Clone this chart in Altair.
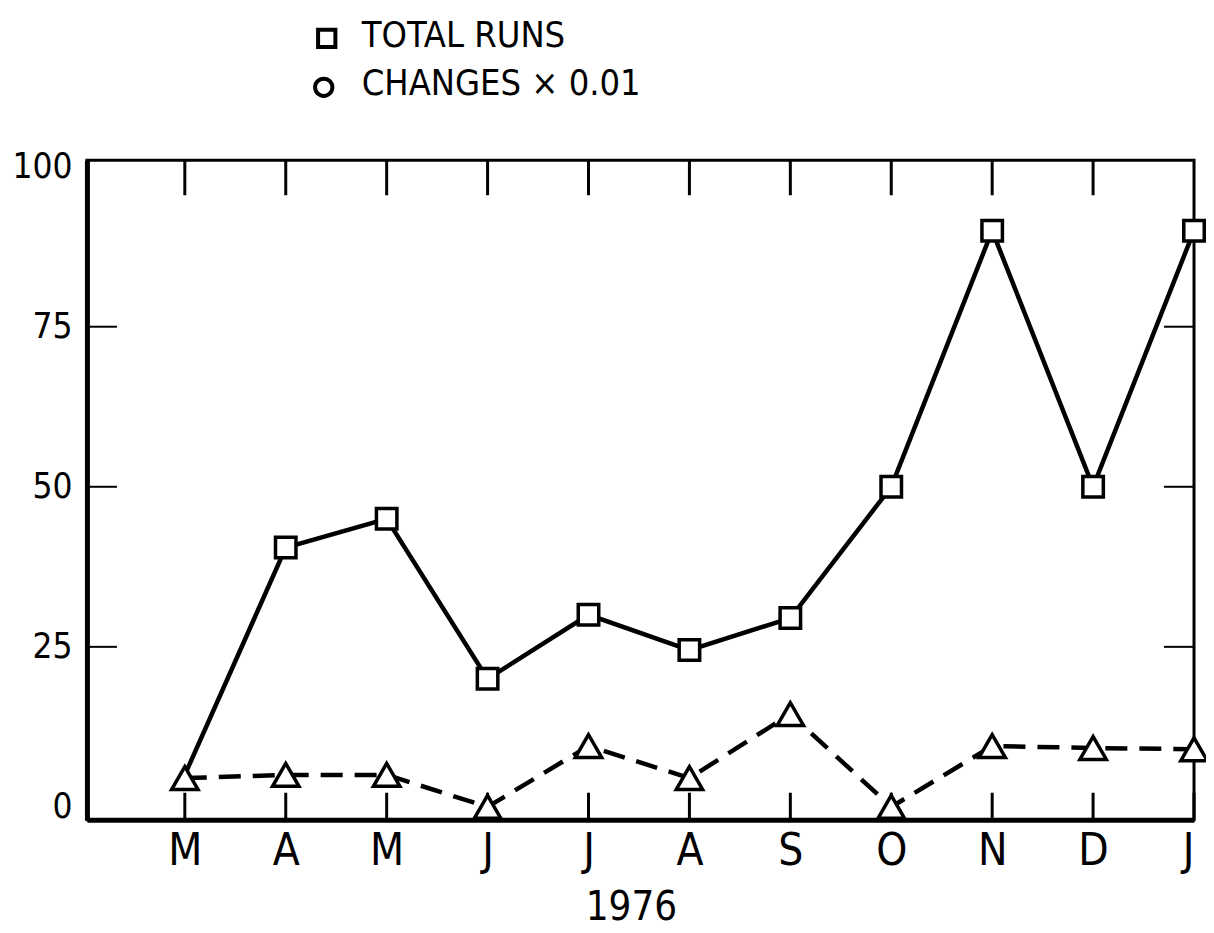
import altair as alt
import pandas as pd

# ---- data ----
months = ["M", "A", "M", "J", "J", "A", "S", "O", "N", "D", "J"]
total_runs = [5, 40.5, 45, 20, 30, 24.5, 29.5, 50, 90, 50, 90]
changes = [4.5, 5, 5, 0, 9.5, 4.5, 14.5, 0, 9.5, 9.2, 9]
y_tick_values = [0, 25, 50, 75, 100]
inner_y_ticks = [25, 50, 75]
year_label = ["1976"]
legend_labels = ["TOTAL RUNS", "CHANGES \u00d7 0.01"]

idx = list(range(len(months)))
runs_df = pd.DataFrame({"i": idx, "v": total_runs})
chg_df = pd.DataFrame({"i": idx, "v": changes})
top_tick_df = pd.DataFrame({"i": idx[:-1]})
bot_tick_df = pd.DataFrame({"i": idx})
ytick_df = pd.DataFrame({"v": inner_y_ticks})

FONT = "'DejaVu Sans Condensed', 'Liberation Sans Narrow', sans-serif"
W, H = 1108, 660

xs = alt.Scale(domain=[-0.97, 10], nice=False, zero=False)
ys = alt.Scale(domain=[-2, 101], nice=False, zero=False)

label_expr = "[" + ",".join("'%s'" % m for m in months) + "][datum.value]"

x_axis = alt.Axis(values=idx, labelExpr=label_expr, ticks=False, domainWidth=5,
                  domainColor="black", labelFontSize=44, labelFont=FONT,
                  labelPadding=10, grid=False, title=None, labelColor="black")
y_axis = alt.Axis(values=y_tick_values, ticks=False, domainWidth=5,
                  domainColor="black", labelFontSize=35, labelFont=FONT,
                  labelPadding=15, grid=False, title=None, labelColor="black")

X = alt.X("i:Q", scale=xs, axis=x_axis)
Y = alt.Y("v:Q", scale=ys, axis=y_axis)

runs_line = alt.Chart(runs_df).mark_line(color="black", strokeWidth=4.5).encode(x=X, y=Y)
chg_line = alt.Chart(chg_df).mark_line(color="black", strokeWidth=4.5, strokeDash=[22, 12]).encode(x=X, y=Y)
# the first total-runs marker is hidden behind the triangle in the original
runs_pts = alt.Chart(runs_df).transform_filter("datum.i > 0").mark_point(
    shape="square", size=420, filled=True, fill="white",
    stroke="black", strokeWidth=3.5, opacity=1).encode(x=X, y=Y)
chg_pts = alt.Chart(chg_df).mark_point(shape="triangle-up", size=700, filled=True, fill="white",
                                        stroke="black", strokeWidth=3.5, opacity=1).encode(x=X, y=Y)

top_ticks = alt.Chart(top_tick_df).mark_rule(color="black", strokeWidth=3).encode(
    x=X, y=alt.value(0), y2=alt.value(35))
bot_ticks = alt.Chart(bot_tick_df).mark_rule(color="black", strokeWidth=3).encode(
    x=X, y=alt.value(H), y2=alt.value(H - 27))
left_ticks = alt.Chart(ytick_df).mark_rule(color="black", strokeWidth=2).encode(
    y=Y, x=alt.value(0), x2=alt.value(30))
right_ticks = alt.Chart(ytick_df).mark_rule(color="black", strokeWidth=2).encode(
    y=Y, x=alt.value(W - 30), x2=alt.value(W))

leg1 = alt.Chart(pd.DataFrame({"label": [legend_labels[0]]})).mark_text(
    font=FONT, fontSize=36, align="left", baseline="middle", color="black").encode(
    text="label:N", x=alt.value(275), y=alt.value(-124))
leg2 = alt.Chart(pd.DataFrame({"label": [legend_labels[1]]})).mark_text(
    font=FONT, fontSize=36, align="left", baseline="middle", color="black").encode(
    text="label:N", x=alt.value(275), y=alt.value(-76))
leg_sq = alt.Chart(pd.DataFrame({"label": [legend_labels[0]]})).mark_point(
    shape="square", size=300, stroke="black", strokeWidth=4, opacity=1).encode(
    x=alt.value(240), y=alt.value(-122))
leg_ci = alt.Chart(pd.DataFrame({"label": [legend_labels[1]]})).mark_point(
    shape="circle", size=300, stroke="black", strokeWidth=4, opacity=1).encode(
    x=alt.value(237), y=alt.value(-73))

year = alt.Chart(pd.DataFrame({"label": year_label})).mark_text(
    font=FONT, fontSize=40, align="center", baseline="middle", color="black").encode(
    text="label:N", x=alt.value(545), y=alt.value(748))

chart = alt.layer(
    runs_line, chg_line, top_ticks, bot_ticks, left_ticks, right_ticks,
    runs_pts, chg_pts, leg1, leg2, leg_sq, leg_ci, year,
).properties(
    width=W, height=H,
    autosize=alt.AutoSizeParams(type="none"),
    padding={"left": 79, "top": 152, "right": 12, "bottom": 113},
    background="white",
).configure_view(stroke="black", strokeWidth=3)

chart.save("out.html", embed_options={"renderer": "svg", "actions": False})
